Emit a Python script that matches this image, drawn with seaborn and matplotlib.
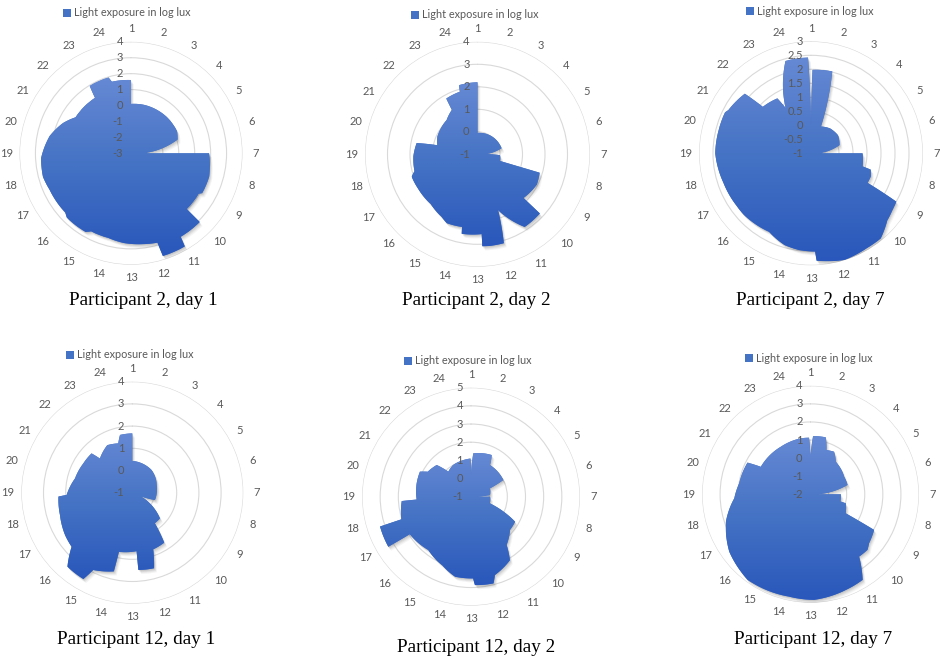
import numpy as np
import matplotlib
matplotlib.use("Agg")
import matplotlib.pyplot as plt
import seaborn as sns
from matplotlib.path import Path
from matplotlib.patches import PathPatch, Patch
from matplotlib.image import BboxImage
from matplotlib.transforms import offset_copy, Bbox

sns.set_theme(style="white")
plt.rcParams['font.family'] = ['Lato', 'DejaVu Sans']

# ---------------------------------------------------------------- data
hour_labels = [str(h) for h in range(1, 25)]
series_name = "Light exposure in log lux"

# outline of each day: clock position (1..25, 25 = back to 1) and log lux
p2d1_hour = [1, 2, 4, 5.3, 5.9, 6.85, 7, 7, 7.8, 8.1, 8.95, 9.05, 10, 10, 10.95, 11, 11.85, 11.9,
             12.5, 13.3, 14, 14.8, 15, 16, 16.2, 17.4, 18, 18.8, 19.8, 20.6, 21.2, 22.8, 22.9,
             23.9, 24, 25]
p2d1_lux = [0.1, 0.15, 0.2, 0.2, 0.05, -2.0, -2.0, 1.9, 2.05, 2.12, 2.12, 1.95, 1.95, 3.1, 3.1,
            3.75, 3.75, 2.85, 2.75, 2.65, 2.5, 2.5, 2.7, 2.7, 2.55, 2.6, 2.72, 2.65, 2.22, 1.67,
            1.15, 1.15, 1.96, 1.96, 1.65, 1.6]
p2d1_ticks = [-3, -2, -1, 0, 1, 2, 3, 4]

p2d2_hour = [1, 3, 4.5, 6.05, 6.9, 7.15, 8.1, 8.1, 8.8, 9.9, 9.9, 10.8, 11.65, 11.9, 12.8, 12.8,
             13.75, 13.8, 14.6, 15.0, 15.9, 17.0, 17.75, 18.0, 18.9, 19.7, 19.85, 20.6, 22.2,
             23.0, 23.05, 23.95, 24.0, 24.95, 25]
p2d2_lux = [-0.05, 0.0, 0.05, 0.1, -0.62, 0.0, 0.05, 1.88, 1.96, 1.82, 2.82, 2.85, 1.64, 3.12,
            3.1, 2.55, 2.6, 2.3, 2.35, 2.2, 2.03, 2.05, 2.09, 1.9, 1.85, 1.75, 0.83, 0.95, 1.05,
            1.28, 1.84, 1.89, 2.18, 2.2, 2.2]
p2d2_ticks = [-1, 0, 1, 2, 3, 4]

p2d7_hour = [1, 1.07, 1.97, 2.36, 3.5, 4.75, 5.93, 6.78, 7, 7, 7.95, 8.02, 8.4, 8.84, 8.97,
             9.35, 9.76, 10.38, 10.97, 11.83, 12.8, 12.84, 13.48, 14.07, 14.87, 16.17, 16.66,
             17.76, 19, 19.93, 20.7, 20.84, 21.8, 21.93, 22.9, 23.05, 23.97, 24.88, 25]
p2d7_lux = [0.0, 1.98, 2.02, 0.02, 0.12, 0.16, 0.06, -0.6, -0.6, 0.84, 0.9, 1.21, 1.29, 1.28,
            2.5, 2.55, 2.63, 2.93, 2.93, 2.99, 2.84, 2.51, 2.48, 2.41, 2.18, 2.25, 2.25, 2.3,
            2.42, 2.4, 2.4, 2.33, 2.18, 1.39, 1.3, 0.85, 2.42, 2.42, 0.0]
p2d7_ticks = [-1, -0.5, 0, 0.5, 1, 1.5, 2, 2.5, 3]

p12d1_hour = [1, 1.12, 3.7, 5.83, 7.0, 8.2, 8.5, 8.6, 9.86, 10.57, 10.83, 11.65, 11.93, 12.7,
              12.72, 13.85, 13.88, 14.79, 14.97, 15.75, 16.22, 16.85, 17.85, 18.8, 18.87, 19.93,
              21.06, 21.93, 22.1, 23.15, 23.94, 24.2, 24.9, 25]
p12d1_lux = [0.43, 0.43, 0.34, 0.15, 0.1, 0.07, -0.54, -0.55, 0.7, 0.71, 1.67, 1.72, 2.54, 2.49,
             1.64, 1.73, 2.64, 2.9, 3.47, 3.43, 2.66, 2.58, 2.41, 2.33, 1.96, 1.66, 1.57, 1.55,
             1.12, 1.42, 1.31, 1.66, 1.67, 1.67]
p12d1_ticks = [-1, 0, 1, 2, 3, 4]

p12d2_hour = [1, 1.2, 2.76, 3.07, 5.18, 5.42, 6.67, 6.9, 7.0, 7.0, 8.29, 8.97, 9.7, 10.57, 10.9,
              11.87, 12.03, 12.83, 12.9, 13.75, 14.5, 15.58, 16.9, 16.92, 17.79, 17.8, 18.76,
              18.8, 19.92, 20.74, 21.0, 21.85, 22.19, 23.0, 24.21, 24.95, 25]
p12d2_lux = [0.2, 1.39, 1.56, 1.03, 1.0, 0.14, 0.05, -0.6, -0.6, 0.05, 0.1, 1.79, 1.82, 2.3,
             3.1, 3.51, 3.93, 3.87, 3.5, 3.49, 3.1, 2.76, 2.95, 4.32, 4.27, 3.03, 2.82, 1.99,
             2.08, 2.13, 1.75, 1.57, 0.86, 1.0, 1.06, 1.1, 0.2]
p12d2_ticks = [-1, 0, 1, 2, 3, 4, 5]

p12d7_hour = [1, 1.17, 2.0, 2.32, 2.93, 3.52, 5.15, 6.05, 6.95, 7.0, 7.0, 7.9, 7.95, 8.89, 8.95,
              9.66, 9.95, 10.47, 10.91, 11.65, 12.87, 13.79, 15.42, 15.8, 16.65, 17.8, 18.8,
              19.59, 20.78, 20.93, 22.87, 24.35, 24.9, 25]
p12d7_lux = [0.08, 1.22, 1.26, 0.6, 0.69, 0.28, 0.1, 0.11, -1.6, -1.6, -0.32, -0.3, 0.01, 0.21,
             2.03, 2.22, 2.4, 2.37, 3.54, 3.64, 3.84, 3.78, 3.87, 3.75, 3.5, 2.92, 2.22, 1.99,
             1.9, 1.14, 1.1, 1.14, 1.13, 0.08]
p12d7_ticks = [-2, -1, 0, 1, 2, 3, 4]

titles = ["Participant 2, day 1", "Participant 2, day 2", "Participant 2, day 7",
          "Participant 12, day 1", "Participant 12, day 2", "Participant 12, day 7"]
hours = [p2d1_hour, p2d2_hour, p2d7_hour, p12d1_hour, p12d2_hour, p12d7_hour]
luxes = [p2d1_lux, p2d2_lux, p2d7_lux, p12d1_lux, p12d2_lux, p12d7_lux]
ticks_all = [p2d1_ticks, p2d2_ticks, p2d7_ticks, p12d1_ticks, p12d2_ticks, p12d7_ticks]

# ---------------------------------------------------------------- layout (pixels)
W, H = 940, 658
# chart centre x, centre y, outer ring radius
geo = [(131, 153.3, 111.5), (477.5, 154.3, 112.5), (811, 153.3, 112),
       (132.3, 492.7, 111), (471, 496.7, 109), (810.5, 494.3, 108.5)]
legend_xy = [(127, 13), (475, 15), (810, 11.5), (130, 355), (468, 361), (809, 358)]
caption_xy = [(143, 301), (476, 301), (810, 301), (136, 640), (476, 648), (813, 640)]

fill_blue = "#4472C4"
grad_cols = np.array(sns.blend_palette(["#6689D4", "#4472C4", "#2957BB"], n_colors=256))
grid_col = "#D9D9D9"
text_col = "#595959"

fig = plt.figure(figsize=(W / 100, H / 100), dpi=100)
fig.patch.set_facecolor("white")

for i in range(6):
    cx, cy, R = geo[i]
    ticks = ticks_all[i]
    vmin, vmax = ticks[0], ticks[-1]
    ax = fig.add_axes([(cx - R) / W, 1 - (cy + R) / H, 2 * R / W, 2 * R / H],
                      projection="polar")
    ax.set_autoscale_on(False)
    ax.set_theta_zero_location("N")
    ax.set_theta_direction(-1)
    ax.set_ylim(vmin, vmax)
    ax.set_yticks(ticks)
    ax.set_yticklabels([])
    ax.set_xticks(np.arange(24) / 24 * 2 * np.pi)
    ax.set_xticklabels(hour_labels)
    ax.tick_params(axis="x", pad=2.5, labelsize=8, labelcolor=text_col, length=0)
    ax.tick_params(axis="y", length=0)
    ax.xaxis.grid(False)
    ax.yaxis.grid(True, color=grid_col, lw=0.8)
    ax.spines["polar"].set_visible(False)
    ax.set_facecolor("white")

    # closed outline in (angle, value), starting and ending at the centre
    theta = (np.asarray(hours[i], float) - 1) / 24 * 2 * np.pi
    r = np.asarray(luxes[i], float)
    verts = np.vstack([[0.0, vmin], np.column_stack([theta, r]),
                       [2 * np.pi, vmin], [0.0, vmin]])
    codes = [Path.MOVETO] + [Path.LINETO] * (len(theta) + 1) + [Path.CLOSEPOLY]
    path = Path(verts, codes, _interpolation_steps=60)

    # soft drop shadow
    for dx, dy, a in [(0.6, -1.0, 0.10), (1.3, -2.0, 0.09), (2.0, -3.0, 0.07), (2.8, -4.0, 0.05)]:
        sh = PathPatch(path, transform=offset_copy(ax.transData, fig=fig, x=dx, y=dy, units="dots"),
                       facecolor=(0.2, 0.2, 0.2, a), edgecolor="none", zorder=1)
        ax.add_patch(sh)

    shape = PathPatch(path, transform=ax.transData, facecolor=fill_blue,
                      edgecolor="none", zorder=1.5)
    ax.add_patch(shape)

    # vertical gradient over the filled area
    ext = shape.get_window_extent()
    im = BboxImage(Bbox.from_extents(ext.x0, ext.y0, ext.x1, ext.y1),
                   interpolation="bilinear", zorder=2)
    im.set_data(grad_cols[:, None, :])
    im.set_clip_path(shape)
    ax.add_artist(im)

    # value labels along the vertical axis
    lab_tr = offset_copy(ax.transData, fig=fig, x=-8, y=0, units="dots")
    for t in ticks:
        ax.text(0, t, f"{t:g}", transform=lab_tr, ha="right", va="center",
                fontsize=8, color=text_col, zorder=6)
    ax.set_ylim(vmin, vmax)

    lx, ly = legend_xy[i]
    ax.legend(handles=[Patch(facecolor=fill_blue, edgecolor="none", label=series_name)],
              loc="center", bbox_to_anchor=(lx / W, 1 - ly / H), bbox_transform=fig.transFigure,
              frameon=False, fontsize=7.8, handlelength=0.7, handleheight=0.7,
              handletextpad=0.35, borderpad=0, borderaxespad=0, labelcolor=text_col)

    tx, ty = caption_xy[i]
    fig.text(tx / W, 1 - ty / H, titles[i], ha="center", va="center", fontsize=13.8,
             family=["Liberation Serif", "DejaVu Serif"], color="black")

fig.savefig("out.png", dpi=100, facecolor="white")
